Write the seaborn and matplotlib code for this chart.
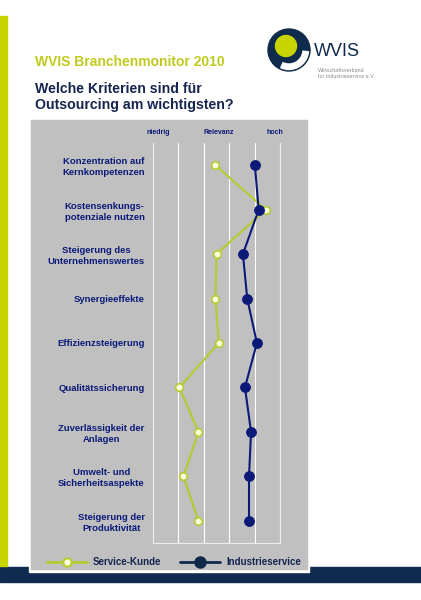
import numpy as np
import pandas as pd
import matplotlib
matplotlib.use("Agg")
import matplotlib.pyplot as plt
import seaborn as sns
from matplotlib.patches import Rectangle, Circle, Wedge
from matplotlib.lines import Line2D

# Data (relevance scale 0 = niedrig ... 5 = hoch)
categories = [
    "Konzentration auf\nKernkompetenzen",
    "Kostensenkungs-\npotenziale nutzen",
    "Steigerung des\nUnternehmenswertes",
    "Synergieeffekte",
    "Effizienzsteigerung",
    "Qualitätssicherung",
    "Zuverlässigkeit der\nAnlagen",
    "Umwelt- und\nSicherheitsaspekte",
    "Steigerung der\nProduktivität",
]
service_kunde = [2.46, 4.44, 2.50, 2.46, 2.59, 1.04, 1.79, 1.20, 1.79]
industrieservice = [4.01, 4.16, 3.54, 3.71, 4.09, 3.62, 3.86, 3.78, 3.78]
scale_labels = ["niedrig", "Relevanz", "hoch"]

navy = "#0b1a78"
dark_blue = "#0f2b4f"
lime = "#b5cb30"
title_green = "#bfca1c"
panel_gray = "#c0c0c0"

df = pd.DataFrame({
    "pos": np.arange(len(categories)),
    "Service-Kunde": service_kunde,
    "Industrieservice": industrieservice,
})

sns.set_theme(style="white")
plt.rcParams["font.family"] = ["Liberation Sans", "DejaVu Sans"]

W, H = 421, 600
fig = plt.figure(figsize=(W / 100, H / 100), dpi=100)
fig.patch.set_facecolor("white")


def fx(px):
    return px / W


def fy(py):
    return 1 - py / H


# bottom band and left bar
fig.patches.append(Rectangle((0, fy(582)), 1, (582 - 567) / H, transform=fig.transFigure,
                             color=dark_blue, zorder=0))
fig.patches.append(Rectangle((0, fy(566)), fx(7), (566 - 16) / H, transform=fig.transFigure,
                             color="#c8d400", zorder=0))
# gray panel with white border
fig.patches.append(Rectangle((fx(29), fy(572)), fx(309 - 29), (572 - 118) / H,
                             transform=fig.transFigure, color="white", zorder=1))
fig.patches.append(Rectangle((fx(31), fy(569)), fx(307 - 31), (569 - 120) / H,
                             transform=fig.transFigure, color=panel_gray, zorder=1))

# titles
fig.text(fx(35), fy(62), "WVIS Branchenmonitor 2010", color=title_green, fontsize=10,
         fontweight="bold", va="center", ha="left")
fig.text(fx(35), fy(97), "Welche Kriterien sind für\nOutsourcing am wichtigsten?",
         color="#15254f", fontsize=10.2, fontweight="bold", va="center", ha="left",
         linespacing=1.25)

# logo
logo = fig.add_axes([fx(264), fy(76), fx(50), 52 / H])
logo.set_xlim(0, 50)
logo.set_ylim(0, 52)
logo.set_aspect("equal")
logo.axis("off")
logo.add_patch(Circle((25, 26), 21, color="#102a4c"))
logo.add_patch(Wedge((25, 26), 19.5, 245, 355, width=5.5, color="white"))
logo.add_patch(Circle((22, 30), 10.5, color="#c8d400"))
fig.text(fx(314), fy(52), "WVIS", color="#102a4c", fontsize=13, va="center", ha="left")
fig.text(fx(318), fy(73.5), "Wirtschaftsverband\nfür Industrieservice e.V.", color="#8a8a8a",
         fontsize=3.9, va="center", ha="left", linespacing=1.35)

# main plot
ax = fig.add_axes([fx(153), fy(543), fx(280 - 153), (543 - 143) / H])
ax.set_facecolor(panel_gray)
ax.set_zorder(3)

sns.lineplot(data=df, x="Service-Kunde", y="pos", sort=False, orient="y", ax=ax,
             color=lime, linewidth=1.5, marker="o", markersize=5.5,
             markerfacecolor="#fbfbe0", markeredgecolor=lime, markeredgewidth=1.2)
sns.lineplot(data=df, x="Industrieservice", y="pos", sort=False, orient="y", ax=ax,
             color=navy, linewidth=1.5, marker="o", markersize=7,
             markerfacecolor=navy, markeredgecolor=navy)

ax.set_xlim(0, 5)
ax.set_ylim(len(categories) - 0.5, -0.5)
ax.set_xticks(range(6))
ax.set_xticklabels([])
ax.grid(axis="x", color="white", linewidth=0.8)
ax.set_yticks(df["pos"])
ax.set_yticklabels(categories, fontsize=6.8, fontweight="bold", color=navy,
                   multialignment="center", linespacing=1.3)
ax.set_yticks(np.arange(len(categories) - 1) + 0.5, minor=True)
ax.tick_params(axis="y", which="major", length=0, pad=6)
ax.tick_params(axis="y", which="minor", length=2, color="white", direction="out")
ax.tick_params(axis="x", length=0)
ax.set_xlabel("")
ax.set_ylabel("")
ax.spines["top"].set_visible(False)
for side in ["left", "bottom", "right"]:
    ax.spines[side].set_color("#ececec")
    ax.spines[side].set_linewidth(0.8)

for x_px, lab in zip([158, 219, 275], scale_labels):
    fig.text(fx(x_px), fy(133), lab, color=navy, fontsize=5, fontweight="bold",
             ha="center", va="center", zorder=5)

# legend drawn at bottom of panel
leg_y = fy(562)
fig.lines.append(Line2D([fx(47), fx(87)], [leg_y, leg_y], transform=fig.transFigure,
                        color=lime, linewidth=2, marker=None, zorder=5))
fig.lines.append(Line2D([fx(67)], [leg_y], transform=fig.transFigure, color=lime,
                        marker="o", markersize=6, markerfacecolor="#fbfbe0",
                        markeredgecolor=lime, markeredgewidth=1.5, zorder=6))
fig.text(fx(93), leg_y, "Service-Kunde", color="#15254f", fontsize=7,
         fontweight="bold", va="center", ha="left", zorder=6)
fig.lines.append(Line2D([fx(180), fx(220)], [leg_y, leg_y], transform=fig.transFigure,
                        color="#102a4c", linewidth=2, zorder=5))
fig.lines.append(Line2D([fx(200)], [leg_y], transform=fig.transFigure, color="#102a4c",
                        marker="o", markersize=8, markerfacecolor="#102a4c", zorder=6))
fig.text(fx(226), leg_y, "Industrieservice", color="#15254f", fontsize=7,
         fontweight="bold", va="center", ha="left", zorder=6)

fig.savefig("out.png", dpi=100)
